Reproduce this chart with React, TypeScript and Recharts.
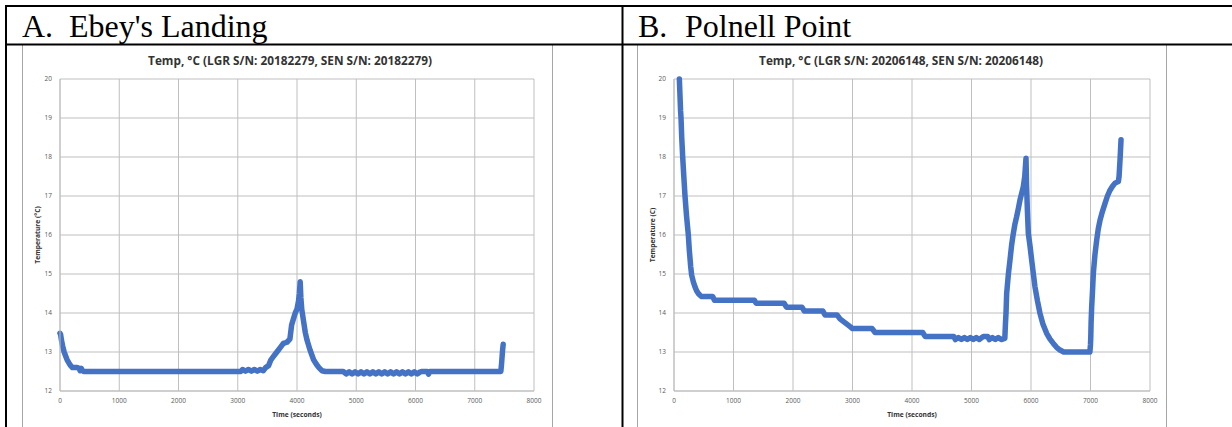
import React from 'react'
import { LineChart, Line, XAxis, YAxis, CartesianGrid } from 'recharts'

// A. Ebey's Landing
const ebeyTime = [
  0, 10, 25, 45, 70, 95, 120, 150, 180, 210, 250, 290, 320, 340, 360, 380, 400,
  3050, 3080, 3130, 3180, 3230, 3280, 3330, 3380, 3430, 3470, 3520, 3560, 3600,
  3660, 3720, 3770, 3830, 3880, 3910, 3940, 3970, 4000, 4025, 4040, 4054, 4065,
  4080, 4110, 4140, 4170, 4220, 4280, 4330, 4370, 4420, 4480, 4780,
  4830, 4880, 4930, 4980, 5030, 5080, 5130, 5180, 5230, 5280, 5330, 5380, 5430,
  5480, 5530, 5580, 5630, 5680, 5730, 5780, 5830, 5880, 5930, 5980, 6030, 6080,
  6110, 6200, 6220, 6240, 7440, 7450, 7460, 7470, 7480,
]
const ebeyTemp = [
  13.48, 13.45, 13.3, 13.15, 13.0, 12.9, 12.8, 12.72, 12.65, 12.6, 12.6, 12.6, 12.58, 12.52, 12.58, 12.52, 12.5,
  12.5, 12.55, 12.51, 12.55, 12.51, 12.55, 12.51, 12.55, 12.52, 12.6, 12.65, 12.8, 12.88,
  13.0, 13.12, 13.22, 13.25, 13.33, 13.7, 13.85, 14.0, 14.1, 14.3, 14.5, 14.8, 14.4,
  14.1, 13.8, 13.5, 13.3, 13.05, 12.8, 12.68, 12.6, 12.52, 12.5, 12.5,
  12.44, 12.49, 12.44, 12.49, 12.44, 12.49, 12.44, 12.49, 12.44, 12.49, 12.44, 12.49, 12.44,
  12.49, 12.44, 12.49, 12.44, 12.49, 12.44, 12.49, 12.44, 12.49, 12.44, 12.49, 12.44, 12.49,
  12.5, 12.5, 12.43, 12.5, 12.5, 12.65, 12.85, 13.05, 13.2,
]

// B. Polnell Point
const polnellTime = [
  90, 100, 110, 118, 130, 146, 165, 185, 210, 241, 258, 280, 297, 325, 353, 380, 409,
  440, 465, 650, 680, 1350, 1380, 1850, 1890, 2150, 2190, 2500, 2540, 2740, 2790,
  2850, 2900, 2960, 3000, 3330, 3380, 4180, 4220, 4700,
  4730, 4780, 4830, 4880, 4930, 4980, 5030, 5080, 5130, 5200, 5270,
  5300, 5350, 5400, 5450, 5500, 5560, 5570, 5580, 5591, 5620, 5647, 5675, 5703,
  5730, 5759, 5790, 5815, 5845, 5871, 5895, 5916, 5925, 5940, 5955, 5985, 6011,
  6040, 6067, 6110, 6151, 6200, 6263, 6320, 6375, 6430, 6487, 6550, 6990, 7000,
  7005, 7010, 7020, 7035, 7048, 7075, 7104, 7130, 7160, 7200, 7244, 7285, 7328,
  7370, 7412, 7468, 7480, 7496, 7513,
]
const polnellTemp = [
  20.0, 19.6, 19.2, 19.0, 18.5, 18.0, 17.5, 17.0, 16.5, 16.0, 15.6, 15.2, 14.97, 14.8, 14.67, 14.57, 14.5,
  14.45, 14.42, 14.42, 14.33, 14.33, 14.25, 14.25, 14.15, 14.15, 14.05, 14.05, 13.95, 13.95, 13.85,
  13.78, 13.72, 13.65, 13.6, 13.6, 13.5, 13.5, 13.4, 13.4,
  13.32, 13.37, 13.32, 13.37, 13.32, 13.37, 13.32, 13.37, 13.32, 13.4, 13.4,
  13.32, 13.37, 13.32, 13.37, 13.32, 13.35, 13.7, 14.0, 14.5, 15.0, 15.36, 15.75, 16.04,
  16.28, 16.47, 16.7, 16.9, 17.08, 17.24, 17.5, 17.97, 17.3, 16.6, 16.04, 15.7, 15.36,
  15.0, 14.67, 14.3, 13.99, 13.72, 13.48, 13.33, 13.22, 13.12, 13.05, 13.0, 13.0, 13.2,
  13.4, 13.75, 14.16, 14.6, 15.02, 15.5, 15.87, 16.15, 16.38, 16.6, 16.81, 17.0, 17.15,
  17.25, 17.33, 17.37, 17.5, 17.92, 18.44,
]

const xTicks = [0, 1000, 2000, 3000, 4000, 5000, 6000, 7000, 8000]
const yTicks = [12, 13, 14, 15, 16, 17, 18, 19, 20]

const BLUE = '#4472C4'
const GRID = '#bfbfbf'
const TICK = { fill: '#595959', fontSize: 6.5, fontFamily: 'Open Sans, sans-serif' }
const AXIS_TITLE = { fill: '#333333', fontSize: 6.7, fontWeight: 700, fontFamily: 'Open Sans, sans-serif' }
const SERIF = 'Liberation Serif, Times New Roman, serif'

interface TempChartProps {
  time: number[]
  temp: number[]
  yLabel: string
  left: number
  width: number
  yAxisWidth: number
  rightMargin: number
}

const TempChart: React.FC<TempChartProps> = ({ time, temp, yLabel, left, width, yAxisWidth, rightMargin }) => {
  const data = time.map((t, i) => ({ t, v: temp[i] }))
  return (
    <div style={{ position: 'absolute', left, top: 45 }}>
      <LineChart width={width} height={382} data={data} margin={{ top: 34, right: rightMargin, bottom: 0, left: 0 }}>
        <CartesianGrid stroke={GRID} strokeWidth={1} />
        <XAxis
          dataKey="t"
          type="number"
          domain={[0, 8000]}
          ticks={xTicks}
          interval={0}
          height={36}
          tickLine={false}
          tickSize={0}
          tickMargin={7}
          axisLine={{ stroke: GRID }}
          tick={TICK}
          label={{ value: 'Time (seconds)', position: 'insideBottom', offset: 10, style: AXIS_TITLE }}
        />
        <YAxis
          type="number"
          domain={[12, 20]}
          ticks={yTicks}
          interval={0}
          width={yAxisWidth}
          tickLine={false}
          tickSize={0}
          tickMargin={8}
          axisLine={{ stroke: GRID }}
          tick={TICK}
          label={{
            value: yLabel,
            angle: -90,
            position: 'insideLeft',
            offset: 16,
            style: { ...AXIS_TITLE, textAnchor: 'middle' },
          }}
        />
        <Line
          dataKey="v"
          type="linear"
          stroke={BLUE}
          strokeWidth={5.5}
          strokeLinejoin="round"
          strokeLinecap="round"
          dot={false}
          isAnimationActive={false}
        />
      </LineChart>
    </div>
  )
}

const App: React.FC = () => {
  return (
    <div style={{ position: 'absolute', left: 0, top: 0, width: 1232, height: 427, background: '#fff', overflow: 'hidden' }}>
      <svg width={1232} height={427} style={{ position: 'absolute', left: 0, top: 0 }}>
        {/* chart frames */}
        <line x1={22.5} y1={45} x2={22.5} y2={427} stroke="#a6a6a6" />
        <line x1={552.5} y1={45} x2={552.5} y2={427} stroke="#a6a6a6" />
        <line x1={637.5} y1={45} x2={637.5} y2={427} stroke="#a6a6a6" />
        <line x1={1166.5} y1={45} x2={1166.5} y2={427} stroke="#a6a6a6" />
        {/* table borders */}
        <line x1={5} y1={6} x2={1232} y2={6} stroke="#000" strokeWidth={2} />
        <line x1={5} y1={44.5} x2={1232} y2={44.5} stroke="#000" strokeWidth={2} />
        <line x1={6} y1={5} x2={6} y2={427} stroke="#000" strokeWidth={2} />
        <line x1={622.5} y1={5} x2={622.5} y2={427} stroke="#000" strokeWidth={2} />
        {/* cell headings */}
        <text x={22} y={37} fontFamily={SERIF} fontSize={32} fill="#000">A.</text>
        <text x={69} y={37} fontFamily={SERIF} fontSize={32} fill="#000">Ebey's Landing</text>
        <text x={638} y={37} fontFamily={SERIF} fontSize={32} fill="#000">B.</text>
        <text x={685} y={37} fontFamily={SERIF} fontSize={32} fill="#000">Polnell Point</text>
        {/* chart titles */}
        <text x={290} y={65} textAnchor="middle" fontFamily="Open Sans, sans-serif" fontWeight={700} fontSize={11.8} fill="#333">
          Temp, °C (LGR S/N: 20182279, SEN S/N: 20182279)
        </text>
        <text x={901} y={65} textAnchor="middle" fontFamily="Open Sans, sans-serif" fontWeight={700} fontSize={11.8} fill="#333">
          Temp, °C (LGR S/N: 20206148, SEN S/N: 20206148)
        </text>
      </svg>
      <TempChart time={ebeyTime} temp={ebeyTemp} yLabel="Temperature (°C)" left={22} width={530} yAxisWidth={38} rightMargin={18} />
      <TempChart time={polnellTime} temp={polnellTemp} yLabel="Temperature (C)" left={637} width={529} yAxisWidth={37} rightMargin={16} />
    </div>
  )
}

export default App
